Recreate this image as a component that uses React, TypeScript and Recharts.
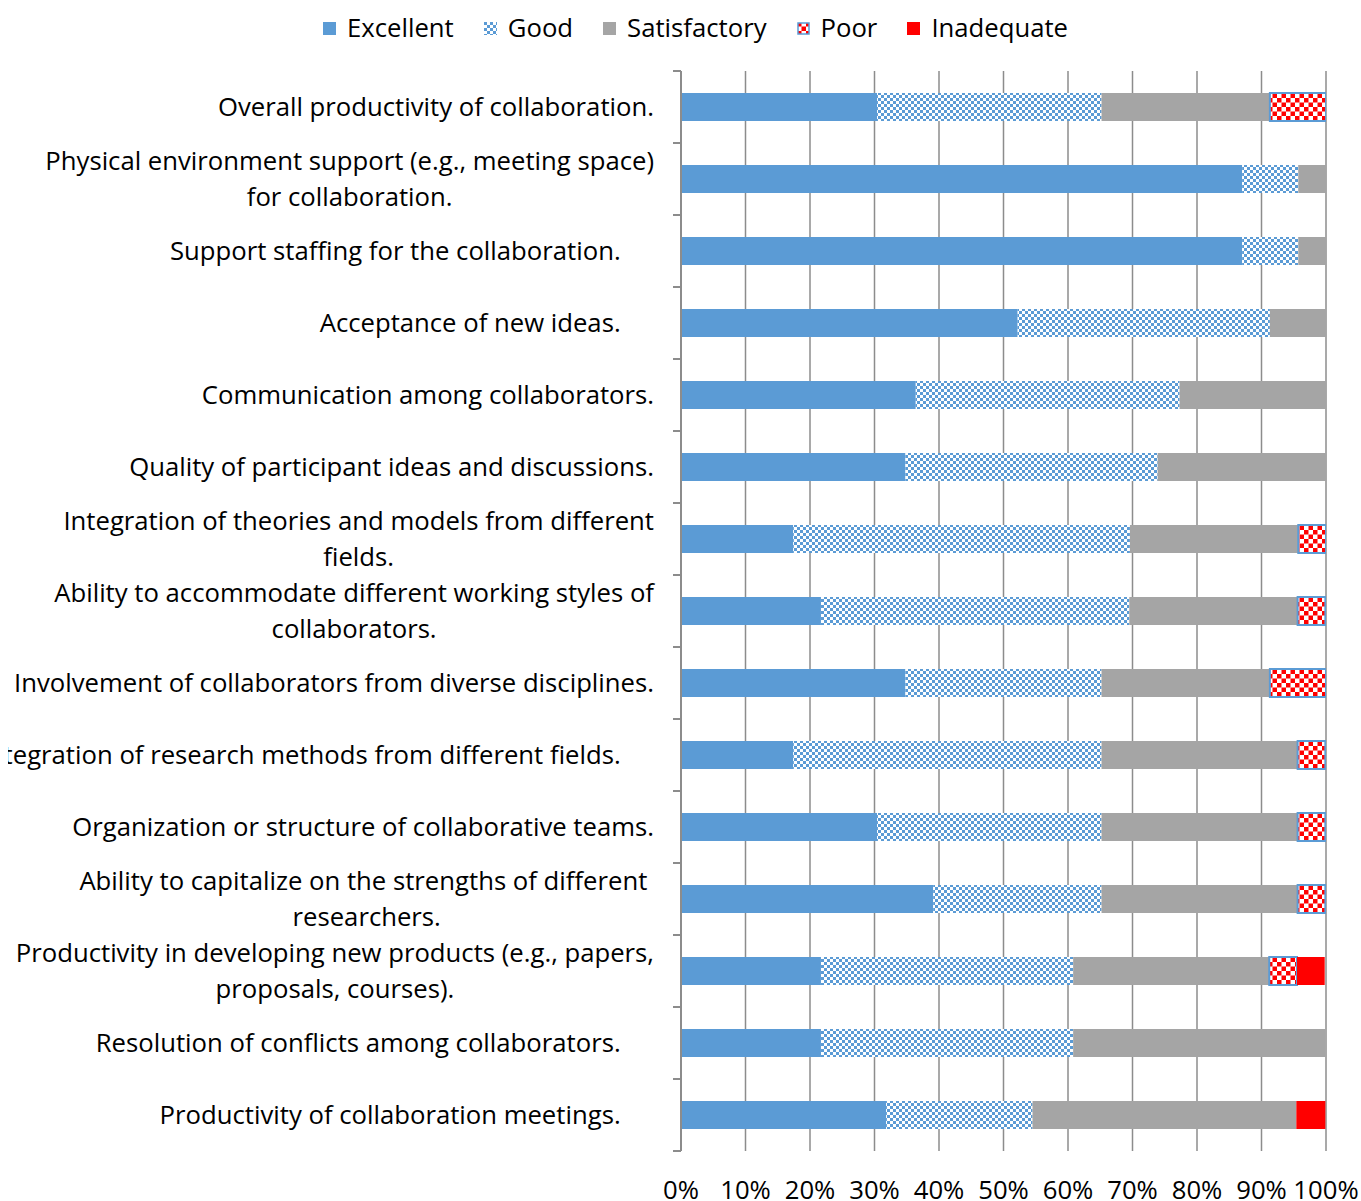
import React from "react";
import { Bar, BarChart, CartesianGrid, XAxis, YAxis } from "recharts";

const categories = [
  "Overall productivity of collaboration.",
  "Physical environment support (e.g., meeting space)\nfor collaboration.",
  "Support staffing for the collaboration.\u00a0\u00a0\u00a0\u00a0\u00a0",
  "Acceptance of new ideas.\u00a0\u00a0\u00a0\u00a0\u00a0",
  "Communication among collaborators.",
  "Quality of participant ideas and discussions.",
  "Integration of theories and models from different\nfields.",
  "Ability to accommodate different working styles of\ncollaborators.",
  "Involvement of collaborators from diverse disciplines.",
  "Integration of research methods from different fields.\u00a0\u00a0\u00a0\u00a0\u00a0",
  "Organization or structure of collaborative teams.",
  "Ability to capitalize on the strengths of different\u00a0\nresearchers.",
  "Productivity in developing new products (e.g., papers,\nproposals, courses).",
  "Resolution of conflicts among collaborators.\u00a0\u00a0\u00a0\u00a0\u00a0",
  "Productivity of collaboration meetings.\u00a0\u00a0\u00a0\u00a0\u00a0",
];

const excellent = [30.4, 87.0, 87.0, 52.2, 36.4, 34.8, 17.4, 21.7, 34.8, 17.4, 30.4, 39.1, 21.7, 21.7, 31.8];
const good = [34.8, 8.7, 8.7, 39.1, 40.9, 39.1, 52.2, 47.8, 30.4, 47.8, 34.8, 26.1, 39.1, 39.1, 22.7];
const satisfactory = [26.1, 4.3, 4.3, 8.7, 22.7, 26.1, 26.1, 26.1, 26.1, 30.4, 30.4, 30.4, 30.4, 39.1, 40.9];
const poor = [8.7, 0, 0, 0, 0, 0, 4.3, 4.3, 8.7, 4.3, 4.3, 4.3, 4.3, 0, 0];
const inadequate = [0, 0, 0, 0, 0, 0, 0, 0, 0, 0, 0, 0, 4.3, 0, 4.5];

const percentTicks = [0, 10, 20, 30, 40, 50, 60, 70, 80, 90, 100];

const data = categories.map((name, i) => ({
  name,
  excellent: excellent[i],
  good: good[i],
  satisfactory: satisfactory[i],
  poor: poor[i],
  inadequate: inadequate[i],
}));

// the page keeps its 8px margin inside our own wrapper instead, so nothing at the edges gets clipped
if (typeof document !== "undefined") document.body.style.margin = "0";

const FONT = "'Open Sans', Lato, sans-serif";
const FONT_SIZE = 25.7;
const LINE_H = 36;
const TICK_SIZE = 8;
const TICK_MARGIN = 19;
const BLUE = "#5B9BD5";
const GREY = "#A5A5A5";
const RED = "#FF0000";
const AXIS = "#8C8C8C";

let ctx: CanvasRenderingContext2D | null = null;
function measure(text: string) {
  if (!ctx) ctx = document.createElement("canvas").getContext("2d");
  if (!ctx) return text.length * FONT_SIZE * 0.45;
  ctx.font = `${FONT_SIZE}px ${FONT}`;
  return ctx.measureText(text).width;
}

function CategoryTick(props: any) {
  const { x, y, payload, index } = props;
  const lines = String(payload.value).split("\n");
  const maxW = Math.max(...lines.map(measure));
  const cx = x - maxW / 2;
  const y0 = y - ((lines.length - 1) * LINE_H) / 2;
  const half = payload.offset || 36;
  const tx1 = x + TICK_MARGIN;
  const tx2 = tx1 + TICK_SIZE;
  return (
    <g>
      <text textAnchor="middle" fill="#000" fontSize={FONT_SIZE} fontFamily={FONT} style={{ whiteSpace: "pre" }}>
        {lines.map((l, i) => (
          <tspan key={i} x={cx} y={y0 + i * LINE_H} dy="0.35em">
            {l}
          </tspan>
        ))}
      </text>
      <line x1={tx1} x2={tx2} y1={y - half} y2={y - half} stroke={AXIS} strokeWidth={2} />
      {index === categories.length - 1 && (
        <line x1={tx1} x2={tx2} y1={y + half} y2={y + half} stroke={AXIS} strokeWidth={2} />
      )}
    </g>
  );
}

function Patterns() {
  return (
    <defs>
      <pattern id="goodPat" width="6" height="6" patternUnits="userSpaceOnUse">
        <rect width="6" height="6" fill="#fff" />
        <rect width="3" height="3" fill={BLUE} />
        <rect x="3" y="3" width="3" height="3" fill={BLUE} />
      </pattern>
      <pattern id="poorPat" width="9" height="9" patternUnits="userSpaceOnUse">
        <rect width="9" height="9" fill="#fff" />
        <rect width="4.5" height="4.5" fill={RED} />
        <rect x="4.5" y="4.5" width="4.5" height="4.5" fill={RED} />
      </pattern>
    </defs>
  );
}

const legendItems = [
  { label: "Excellent", fill: BLUE, border: false },
  { label: "Good", fill: "url(#goodPat)", border: false },
  { label: "Satisfactory", fill: GREY, border: false },
  { label: "Poor", fill: "url(#poorPat)", border: true },
  { label: "Inadequate", fill: RED, border: false },
];

function LegendRow() {
  return (
    <div
      style={{
        position: "absolute",
        top: 11,
        left: 323,
        display: "flex",
        alignItems: "center",
        gap: 30,
        fontFamily: FONT,
        fontSize: FONT_SIZE,
        lineHeight: "34px",
        color: "#000",
      }}
    >
      {legendItems.map((it) => (
        <div key={it.label} style={{ display: "flex", alignItems: "center", gap: 11 }}>
          <svg width={13} height={13}>
            <rect
              x={it.border ? 1 : 0}
              y={it.border ? 1 : 0}
              width={it.border ? 11 : 13}
              height={it.border ? 11 : 13}
              fill={it.fill}
              stroke={it.border ? BLUE : "none"}
              strokeWidth={it.border ? 1.5 : 0}
            />
          </svg>
          <span>{it.label}</span>
        </div>
      ))}
    </div>
  );
}

export default function App() {
  return (
    <div style={{ position: "relative", width: 1361, height: 1201, overflow: "hidden", background: "#fff" }}>
      <div style={{ position: "absolute", left: 8, top: 8 }}>
        <BarChart
          width={1353}
          height={1193}
          data={data}
          layout="vertical"
          margin={{ top: 63, right: 35, bottom: 0, left: 0 }}
          barSize={28}
          style={{ fontFamily: FONT, overflow: "visible" }}
        >
          <Patterns />
          <CartesianGrid vertical horizontal={false} stroke={AXIS} strokeWidth={1.5} />
          <XAxis
            type="number"
            domain={[0, 100]}
            ticks={percentTicks}
            tickFormatter={(v) => `${v}%`}
            axisLine={false}
            tickLine={false}
            tickSize={0}
            tickMargin={30}
            height={50}
            interval={0}
            allowDataOverflow
            tick={{ fill: "#000", fontSize: FONT_SIZE, fontFamily: FONT }}
          />
          <YAxis
            type="category"
            dataKey="name"
            width={673}
            axisLine={{ stroke: AXIS, strokeWidth: 2 }}
            tickLine={false}
            tickSize={TICK_SIZE}
            tickMargin={TICK_MARGIN}
            interval={0}
            tick={<CategoryTick />}
          />
          <Bar dataKey="excellent" stackId="a" fill={BLUE} isAnimationActive={false} />
          <Bar dataKey="good" stackId="a" fill="url(#goodPat)" isAnimationActive={false} />
          <Bar dataKey="satisfactory" stackId="a" fill={GREY} isAnimationActive={false} />
          <Bar dataKey="poor" stackId="a" fill="url(#poorPat)" stroke={BLUE} strokeWidth={2} isAnimationActive={false} />
          <Bar dataKey="inadequate" stackId="a" fill={RED} isAnimationActive={false} />
        </BarChart>
      </div>
      <LegendRow />
    </div>
  );
}
